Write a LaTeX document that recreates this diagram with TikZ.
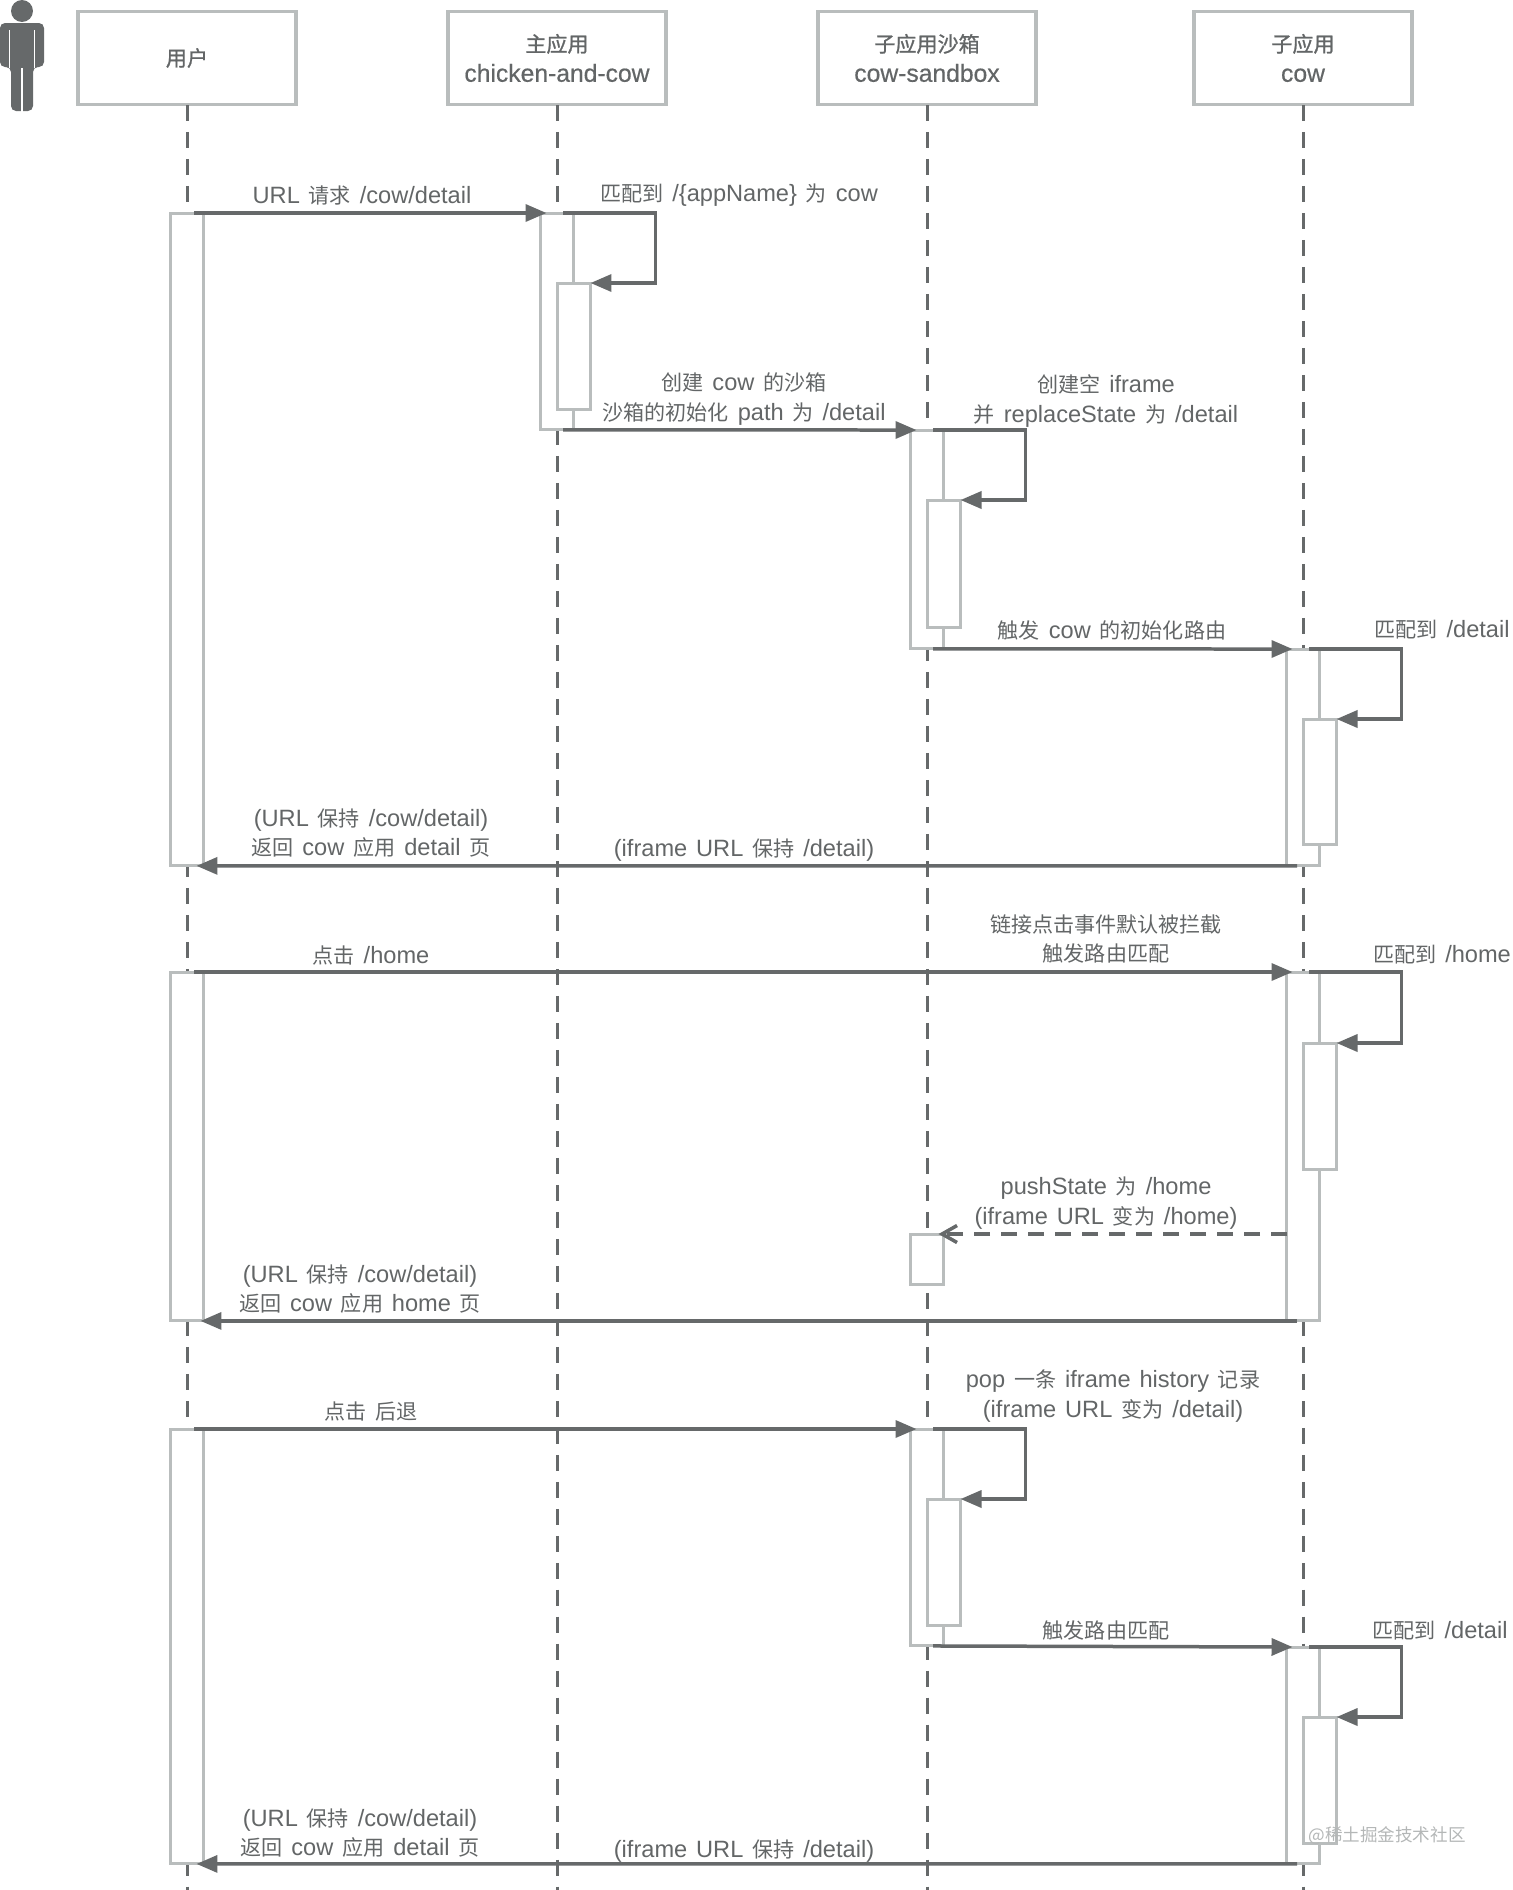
\documentclass[tikz,border=0pt]{standalone}
\usepackage{fontspec}
\setmainfont{Noto Sans CJK SC}
\newfontfamily\lat{Liberation Sans}[Scale=1.12]
\newfontfamily\headfont{Noto Sans CJK SC}[FakeBold=1]
\newfontfamily\headlat{Liberation Sans}[Scale=1.17,FakeBold=0.5]
\newcommand{\msgfont}{\fontsize{12}{17}\selectfont\spaceskip=.42em\relax}
\usetikzlibrary{arrows.meta}
\definecolor{inkc}{HTML}{66696A}
\definecolor{barc}{HTML}{B9BDBD}
\definecolor{txtc}{HTML}{636667}
\definecolor{markc}{HTML}{B4B7B7}
\begin{document}
\begin{tikzpicture}[x=.02cm,y=-.02cm,
  every node/.style={inner sep=0pt,outer sep=0pt,align=center,text=txtc,font=\msgfont},
  head/.style={draw=barc,line width=.07cm,fill=white,minimum width=4.36cm,minimum height=1.86cm,font=\fontsize{12}{17}\selectfont\headfont},
  bar/.style={draw=barc,line width=.06cm,fill=white,anchor=north,minimum width=.66cm},
  life/.style={draw=inkc,line width=.06cm,dash pattern=on .32cm off .22cm},
  msg/.style={draw=inkc,line width=.07cm,-{Triangle[length=.42cm,width=.34cm]}},
  ret/.style={draw=inkc,line width=.07cm,dash pattern=on .32cm off .22cm,-{Straight Barb[length=.30cm,width=.34cm]}}]
\useasboundingbox (0,0) rectangle (1512,1890);
% person
\fill[inkc] (22,11) circle (.22cm);
\fill[inkc,rounded corners=.1cm] (0,67) -- (0,23) -- (44,23) -- (44,67) -- (33,67) -- (33,111) -- (11,111) -- (11,67) -- cycle;
\draw[white,line width=.03cm] (9.5,30) -- (9.5,68) (34.5,30) -- (34.5,68) (22,68) -- (22,112);
% heads
\node[head] (user) at (187,58) {用户};
\node[head] (main) at (557,58) {主应用\\{\headlat chicken-and-cow}};
\node[head] (sand) at (927,58) {子应用沙箱\\{\headlat cow-sandbox}};
\node[head] (cow) at (1303,58) {子应用\\{\headlat cow}};
\coordinate (userend) at (187,1890);
\coordinate (mainend) at (557,1890);
\coordinate (sandend) at (927,1890);
\coordinate (cowend) at (1303,1890);
\draw[life] (user)++(0,47) -- (userend);
\draw[life] (main)++(0,47) -- (mainend);
\draw[life] (sand)++(0,47) -- (sandend);
\draw[life] (cow)++(0,47) -- (cowend);
% bars
\node[bar,minimum height=13.06cm] (ub1) at (187,213) {};
\node[bar,minimum height=6.98cm] (ub2) at (187,972) {};
\node[bar,minimum height=8.70cm] (ub3) at (187,1429) {};
\node[bar,minimum height=4.34cm] (mb) at (557,213) {};
\node[bar,minimum height=2.54cm] (mi) at (574,283) {};
\node[bar,minimum height=4.38cm] (sb1) at (927,430) {};
\node[bar,minimum height=2.56cm] (si1) at (944,500) {};
\node[bar,minimum height=1.00cm] (sb2) at (927,1234) {};
\node[bar,minimum height=4.34cm] (sb3) at (927,1429) {};
\node[bar,minimum height=2.54cm] (si3) at (944,1499) {};
\node[bar,minimum height=4.34cm] (cb1) at (1303,649) {};
\node[bar,minimum height=2.52cm] (ci1) at (1320,719) {};
\node[bar,minimum height=6.98cm] (cb2) at (1303,972) {};
\node[bar,minimum height=2.54cm] (ci2) at (1320,1043) {};
\node[bar,minimum height=4.34cm] (cb3) at (1303,1647) {};
\node[bar,minimum height=2.54cm] (ci3) at (1320,1717) {};
% first round
\draw[msg] ([xshift=.14cm]ub1.north) -- ([xshift=.12cm]mb.north west);
\draw[msg] ([xshift=.12cm]mb.north) -| ([xshift=1.3cm]mi.north east) -- (mi.north east);
\draw[msg] ([xshift=.12cm]mb.south) -- ([xshift=.12cm]sb1.north west);
\draw[msg] ([xshift=.12cm]sb1.north) -| ([xshift=1.3cm]si1.north east) -- (si1.north east);
\draw[msg] ([xshift=.12cm]sb1.south) -- ([xshift=.12cm]cb1.north west);
\draw[msg] ([xshift=.12cm]cb1.north) -| ([xshift=1.3cm]ci1.north east) -- (ci1.north east);
\draw[msg] ([xshift=-.12cm]cb1.south) -- ([xshift=-.14cm]ub1.south east);
% second round
\draw[msg] ([xshift=.14cm]ub2.north) -- ([xshift=.12cm]cb2.north west);
\draw[msg] ([xshift=.12cm]cb2.north) -| ([xshift=1.3cm]ci2.north east) -- (ci2.north east);
\coordinate (push) at (1287,1234);
\draw[ret] (push) -- ([xshift=-.1cm]sb2.north east);
\draw[msg] ([xshift=-.12cm]cb2.south) -- ([xshift=-.06cm]ub2.south east);
% third round
\draw[msg] ([xshift=.14cm]ub3.north) -- ([xshift=.12cm]sb3.north west);
\draw[msg] ([xshift=.12cm]sb3.north) -| ([xshift=1.3cm]si3.north east) -- (si3.north east);
\draw[msg] ([xshift=.12cm]sb3.south) -- ([xshift=.12cm]cb3.north west);
\draw[msg] ([xshift=.12cm]cb3.north) -| ([xshift=1.3cm]ci3.north east) -- (ci3.north east);
\draw[msg] ([xshift=-.12cm]cb3.south) -- ([xshift=-.14cm]ub3.south east);
% labels
\node (t1) at (362,196) {{\lat URL} 请求 {\lat /cow/detail}};
\node (t2) at (739,195) {匹配到 {\lat /\{appName\}} 为 {\lat cow}};
\node (t3) at (744,399) {创建 {\lat cow} 的沙箱\\沙箱的初始化 {\lat path} 为 {\lat /detail}};
\node (t4) at (1106,401) {创建空 {\lat iframe}\\并 {\lat replaceState} 为 {\lat /detail}};
\node (t5) at (1112,630) {触发 {\lat cow} 的初始化路由};
\node (t6) at (1442,630) {匹配到 {\lat /detail}};
\node (t7) at (371,833) {{\lat (URL} 保持 {\lat /cow/detail)}\\返回 {\lat cow} 应用 {\lat detail} 页};
\node (t8) at (744,850) {{\lat (iframe URL} 保持 {\lat /detail)}};
\node (t9) at (1106,939) {链接点击事件默认被拦截\\触发路由匹配};
\node (t10) at (371,955) {点击 {\lat /home}};
\node (t11) at (1442,955) {匹配到 {\lat /home}};
\node (t12) at (1106,1203) {{\lat pushState} 为 {\lat /home}\\{\lat (iframe URL} 变为 {\lat /home)}};
\node (t13) at (360,1289) {{\lat (URL} 保持 {\lat /cow/detail)}\\返回 {\lat cow} 应用 {\lat home} 页};
\node (t14) at (371,1411) {点击 后退};
\node (t15) at (1113,1396) {{\lat pop} 一条 {\lat iframe history} 记录\\{\lat (iframe URL} 变为 {\lat /detail)}};
\node (t16) at (1106,1630) {触发路由匹配};
\node (t17) at (1440,1631) {匹配到 {\lat /detail}};
\node (t18) at (360,1833) {{\lat (URL} 保持 {\lat /cow/detail)}\\返回 {\lat cow} 应用 {\lat detail} 页};
\node (t19) at (744,1851) {{\lat (iframe URL} 保持 {\lat /detail)}};
\node[text=markc,font=\fontsize{10}{12}\selectfont] (mark) at (1387,1836) {@稀土掘金技术社区};
\end{tikzpicture}
\end{document}
